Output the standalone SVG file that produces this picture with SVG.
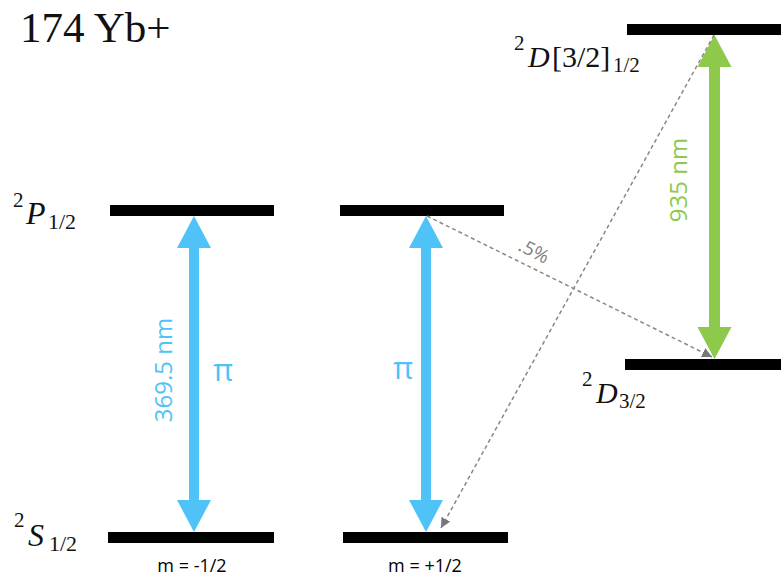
<svg xmlns="http://www.w3.org/2000/svg" width="781" height="579" viewBox="0 0 781 579">
<defs>
<style>
.lvl{fill:#000}
.serif{font-family:"Liberation Serif","DejaVu Serif",serif;fill:#111}
.sans{font-family:"Open Sans","Liberation Sans",sans-serif}
.blue{fill:#4fc3f7}
.green{fill:#8dc94a}
.dash{stroke:#888;stroke-width:1.5;stroke-dasharray:4 3;fill:none}
.m{font-family:"Open Sans","Liberation Sans",sans-serif;font-size:18px;fill:#000;text-anchor:middle}
</style>
<marker id="ah" viewBox="0 0 10 10" refX="10" refY="5" markerWidth="10" markerHeight="10" markerUnits="userSpaceOnUse" orient="auto">
<path d="M0,0 L10,5 L0,10 Z" fill="#777"/>
</marker>
</defs>
<rect width="781" height="579" fill="#fff"/>
<text class="serif" x="20" y="42" font-size="43" fill="#222">174 Yb+</text>

<g id="P_left"><rect class="lvl" x="110" y="205" width="164" height="11"/></g>
<g id="P_right"><rect class="lvl" x="340" y="205" width="164" height="11"/></g>
<g id="S_left"><rect class="lvl" x="108" y="532" width="166" height="11"/><text class="m" x="192" y="572">m = -1/2</text></g>
<g id="S_right"><rect class="lvl" x="343" y="532" width="165" height="11"/><text class="m" x="425" y="572">m = +1/2</text></g>
<g id="D_top"><rect class="lvl" x="627" y="24" width="154" height="11"/></g>
<g id="D_32"><rect class="lvl" x="625" y="359" width="156" height="11"/></g>

<g id="labels" class="serif">
<text x="13" y="207" font-size="21">2</text>
<text x="26" y="224" font-size="32" font-style="italic">P</text>
<text x="48" y="229" font-size="22">1/2</text>

<text x="14" y="527" font-size="21">2</text>
<text x="28" y="546" font-size="32" font-style="italic">S</text>
<text x="49" y="551" font-size="22">1/2</text>

<text x="514" y="50" font-size="21">2</text>
<text x="528" y="67" font-size="30" font-style="italic">D</text>
<text x="552" y="67" font-size="30">[3/2]</text>
<text x="613" y="72" font-size="21">1/2</text>

<text x="582" y="386" font-size="21">2</text>
<text x="596" y="403" font-size="30" font-style="italic">D</text>
<text x="619" y="408" font-size="21">3/2</text>
</g>

<g id="connectors">
<polygon class="blue" points="194,216 211,248 199,248 199,500 211,500 194,532 177,500 189,500 189,248 177,248"/>
<polygon class="blue" points="426,216 443,248 431,248 431,500 443,500 426,532 409,500 421,500 421,248 409,248"/>
<polygon class="green" points="714.5,35 731.5,67 720,67 720,327 731.5,327 714.5,359 697.5,327 709,327 709,67 697.5,67"/>
<line class="dash" x1="427" y1="216" x2="712" y2="357" marker-end="url(#ah)"/>
<line class="dash" x1="714" y1="35" x2="441" y2="528" marker-end="url(#ah)"/>
<text class="sans" x="0" y="0" font-size="24" fill="#4fc3f7" text-anchor="middle" transform="translate(172,370) rotate(-90)">369.5 nm</text>
<text class="sans" x="0" y="0" font-size="24" fill="#8dc94a" text-anchor="middle" transform="translate(687,180) rotate(-90)">935 nm</text>
<text class="sans" x="223" y="381" font-size="31" fill="#4fc3f7" text-anchor="middle">π</text>
<text class="sans" x="403" y="379" font-size="31" fill="#4fc3f7" text-anchor="middle">π</text>
<text class="sans" x="0" y="0" font-size="19" fill="#808080" text-anchor="middle" transform="translate(531,257) rotate(27)">.5%</text>
</g>
</svg>
